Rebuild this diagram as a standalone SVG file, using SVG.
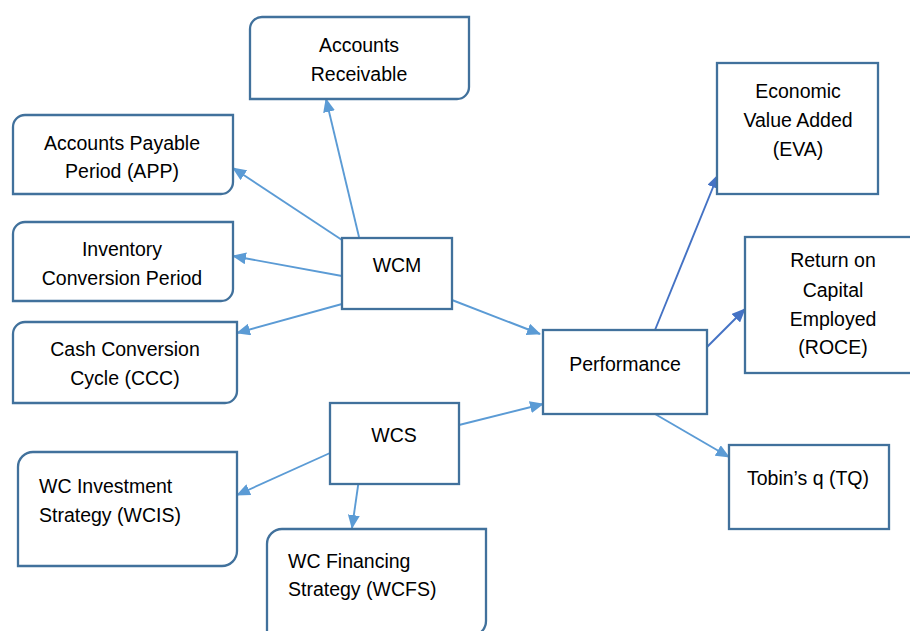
<svg xmlns="http://www.w3.org/2000/svg" width="910" height="631" viewBox="0 0 910 631">
  <style>
    .box { fill: #ffffff; stroke: #41719C; stroke-width: 2.3; }
    .lbl { font-family: "Liberation Sans", Arial, sans-serif; font-size: 19.5px; fill: #000000; }
    .c { text-anchor: middle; }
    .edge { fill: none; stroke: #5B9BD5; stroke-width: 1.9; }
    .edge.dark { stroke: #4472C4; }
  </style>
  <defs>
    <marker id="arr" markerUnits="userSpaceOnUse" markerWidth="15" markerHeight="12" refX="13" refY="6" orient="auto">
      <path d="M0,0 L14,6 L0,12 Z" fill="#5B9BD5"/>
    </marker>
    <marker id="arrDark" markerUnits="userSpaceOnUse" markerWidth="15" markerHeight="12" refX="13" refY="6" orient="auto">
      <path d="M0,0 L14,6 L0,12 Z" fill="#4472C4"/>
    </marker>
  </defs>
  <rect width="910" height="631" fill="#ffffff"/>

  <!-- connectors -->
  <g id="connectors">
    <line class="edge" x1="359" y1="237" x2="326" y2="99" marker-end="url(#arr)"/>
    <line class="edge" x1="342" y1="240" x2="233" y2="168" marker-end="url(#arr)"/>
    <line class="edge" x1="342" y1="276" x2="233" y2="256" marker-end="url(#arr)"/>
    <line class="edge" x1="342" y1="304" x2="237" y2="333" marker-end="url(#arr)"/>
    <line class="edge" x1="452" y1="300" x2="540" y2="334" marker-end="url(#arr)"/>
    <line class="edge" x1="459" y1="425" x2="543" y2="404" marker-end="url(#arr)"/>
    <line class="edge" x1="330" y1="453" x2="237" y2="495" marker-end="url(#arr)"/>
    <line class="edge" x1="359" y1="479" x2="352" y2="528" marker-end="url(#arr)"/>
    <line class="edge dark" x1="655" y1="330" x2="718" y2="175" marker-end="url(#arrDark)"/>
    <line class="edge dark" x1="707" y1="347" x2="745" y2="309" marker-end="url(#arrDark)"/>
    <line class="edge" x1="655" y1="414" x2="729" y2="457" marker-end="url(#arr)"/>
  </g>

  <!-- measures of working capital management -->
  <g id="accounts-receivable">
    <path class="box" d="M262,17 H469 V87 A12,12 0 0 1 457,99 H250 V29 A12,12 0 0 1 262,17 Z"/>
    <text class="lbl c" x="359" y="51.5">Accounts</text>
    <text class="lbl c" x="359" y="81">Receivable</text>
  </g>
  <g id="accounts-payable-period">
    <path class="box" d="M25,115 H233 V182 A12,12 0 0 1 221,194 H13 V127 A12,12 0 0 1 25,115 Z"/>
    <text class="lbl c" x="122" y="149.5">Accounts Payable</text>
    <text class="lbl c" x="122" y="178">Period (APP)</text>
  </g>
  <g id="inventory-conversion-period">
    <path class="box" d="M25,222 H233 V289 A12,12 0 0 1 221,301 H13 V234 A12,12 0 0 1 25,222 Z"/>
    <text class="lbl c" x="122" y="256">Inventory</text>
    <text class="lbl c" x="122" y="285">Conversion Period</text>
  </g>
  <g id="cash-conversion-cycle">
    <path class="box" d="M25,322 H237 V391 A12,12 0 0 1 225,403 H13 V334 A12,12 0 0 1 25,322 Z"/>
    <text class="lbl c" x="125" y="356">Cash Conversion</text>
    <text class="lbl c" x="125" y="385">Cycle (CCC)</text>
  </g>
  <g id="wcm">
    <rect class="box" x="342" y="238" width="110" height="71"/>
    <text class="lbl c" x="397" y="272">WCM</text>
  </g>

  <!-- working capital strategy -->
  <g id="wcs">
    <rect class="box" x="330" y="403" width="129" height="81"/>
    <text class="lbl c" x="394" y="442">WCS</text>
  </g>
  <g id="wc-investment-strategy">
    <path class="box" d="M33,452 H237 V551 A15,15 0 0 1 222,566 H18 V467 A15,15 0 0 1 33,452 Z"/>
    <text class="lbl" x="39" y="493">WC Investment</text>
    <text class="lbl" x="39" y="522">Strategy (WCIS)</text>
  </g>
  <g id="wc-financing-strategy">
    <path class="box" d="M282,529 H486 V621 A15,15 0 0 1 471,636 H267 V544 A15,15 0 0 1 282,529 Z"/>
    <text class="lbl" x="288" y="568">WC Financing</text>
    <text class="lbl" x="288" y="596">Strategy (WCFS)</text>
  </g>

  <!-- performance and its measures -->
  <g id="performance">
    <rect class="box" x="543" y="330" width="164" height="84"/>
    <text class="lbl c" x="625" y="371">Performance</text>
  </g>
  <g id="eva">
    <rect class="box" x="717" y="63" width="161" height="131"/>
    <text class="lbl c" x="798" y="98">Economic</text>
    <text class="lbl c" x="798" y="127">Value Added</text>
    <text class="lbl c" x="798" y="156">(EVA)</text>
  </g>
  <g id="roce">
    <rect class="box" x="745" y="237" width="175" height="136"/>
    <text class="lbl c" x="833" y="267">Return on</text>
    <text class="lbl c" x="833" y="297">Capital</text>
    <text class="lbl c" x="833" y="326">Employed</text>
    <text class="lbl c" x="833" y="354">(ROCE)</text>
  </g>
  <g id="tobins-q">
    <rect class="box" x="729" y="445" width="160" height="84"/>
    <text class="lbl c" x="808" y="485">Tobin’s q (TQ)</text>
  </g>
</svg>
